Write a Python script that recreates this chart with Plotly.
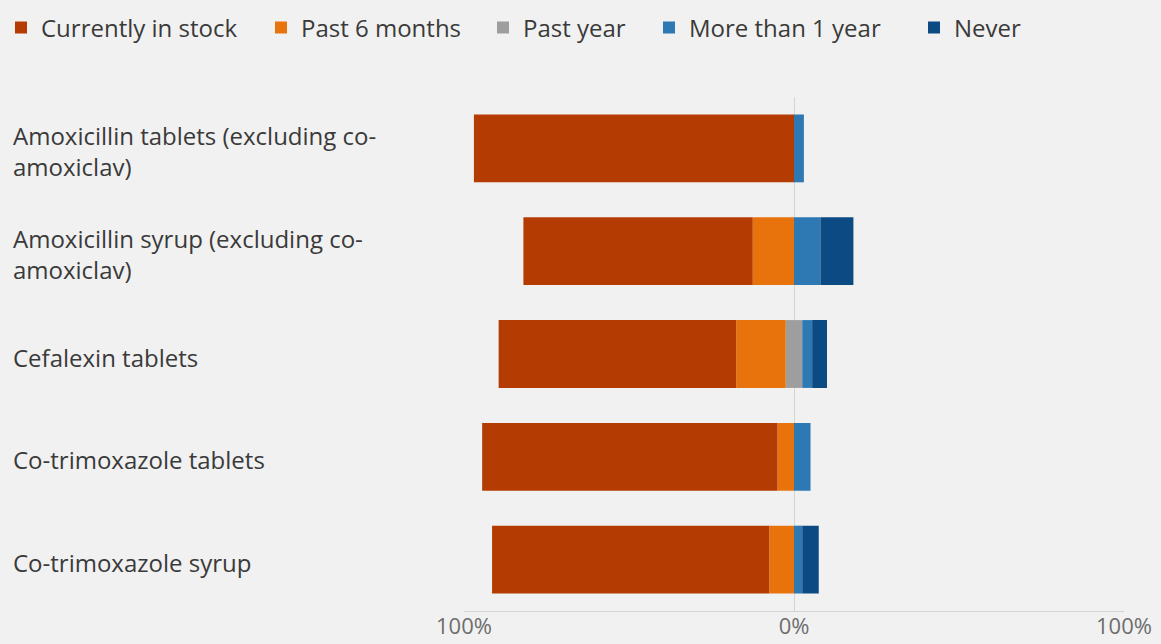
import plotly.graph_objects as go

categories = [
    "Amoxicillin tablets (excluding co-amoxiclav)",
    "Amoxicillin syrup (excluding co-amoxiclav)",
    "Cefalexin tablets",
    "Co-trimoxazole tablets",
    "Co-trimoxazole syrup",
]
label_text = [
    "Amoxicillin tablets (excluding co-<br>amoxiclav)",
    "Amoxicillin syrup (excluding co-<br>amoxiclav)",
    "Cefalexin tablets",
    "Co-trimoxazole tablets",
    "Co-trimoxazole syrup",
]
currently_in_stock = [97, 69.5, 72, 89.5, 84]
past_6_months = [0, 12.5, 15, 5, 7.5]
past_year = [0, 0, 5, 0, 0]
more_than_1_year = [3, 8, 3, 5, 2.5]
never = [0, 10, 4.5, 0, 5]

tick_vals = [-100, 0, 100]
tick_text = ["100%", "0%", "100%"]

series_names = ["Currently in stock", "Past 6 months", "Past year", "More than 1 year", "Never"]
colors = ["#B43C02", "#E8730C", "#9E9E9E", "#2E79B4", "#0C4A84"]
legend_px = [1, 261, 483, 649, 914]  # left edge of each legend entry

FONT = "Open Sans"
TEXT = "#3a3a3a"
W = 0.66
fig = go.Figure()

def add(idx, vals, sign, show=True):
    name = series_names[idx]
    fig.add_trace(go.Bar(
        y=categories, x=[sign * v for v in vals], orientation="h",
        name=name, width=W, marker=dict(color=colors[idx], line=dict(width=0)),
        showlegend=show, legendgroup=name,
        legend="legend" if idx == 0 else f"legend{idx + 1}",
        hoverinfo="skip",
    ))

half_year = [v / 2 for v in past_year]
add(2, half_year, -1)
add(2, half_year, 1, show=False)
add(1, past_6_months, -1)
add(0, currently_in_stock, -1)
add(3, more_than_1_year, 1)
add(4, never, 1)

annotations = []
for cat, txt in zip(categories, label_text):
    annotations.append(dict(
        text=txt, xref="paper", yref="y", x=-(464 - 11) / 660, y=cat,
        xanchor="left", yanchor="middle", showarrow=False, yshift=-3,
        font=dict(family=FONT, size=24, color=TEXT), align="left",
    ))

legends = {}
for i, px in enumerate(legend_px):
    key = "legend" if i == 0 else f"legend{i + 1}"
    legends[key] = dict(
        orientation="h", xref="container", yref="container",
        x=px / 1161, y=1 - 28 / 644, xanchor="left", yanchor="middle",
        font=dict(family=FONT, size=24, color=TEXT),
        bgcolor="rgba(0,0,0,0)", borderwidth=0,
    )

fig.update_layout(
    width=1161, height=644,
    margin=dict(l=464, r=37, t=97, b=33),
    barmode="relative",
    paper_bgcolor="#f1f1f1", plot_bgcolor="#f1f1f1",
    font=dict(family=FONT, size=24, color=TEXT),
    showlegend=True,
    xaxis=dict(
        range=[-100, 100], tickvals=tick_vals, ticktext=tick_text,
        showgrid=True, gridcolor="#d4d4d4", gridwidth=1,
        zeroline=False, showline=True, linecolor="#d4d4d4", linewidth=1,
        tickfont=dict(family=FONT, size=22, color="#6d6d6d"),
        ticklabelstandoff=-4,
        ticks="", fixedrange=True, automargin=False,
    ),
    yaxis=dict(
        autorange="reversed", showticklabels=False, showgrid=False,
        zeroline=False, showline=False, ticks="", fixedrange=True,
        automargin=False,
    ),
    annotations=annotations,
    **legends,
)

fig.write_html(
    "out.html",
    config={"displayModeBar": False},
    post_script="document.body.style.margin='0';",
)
